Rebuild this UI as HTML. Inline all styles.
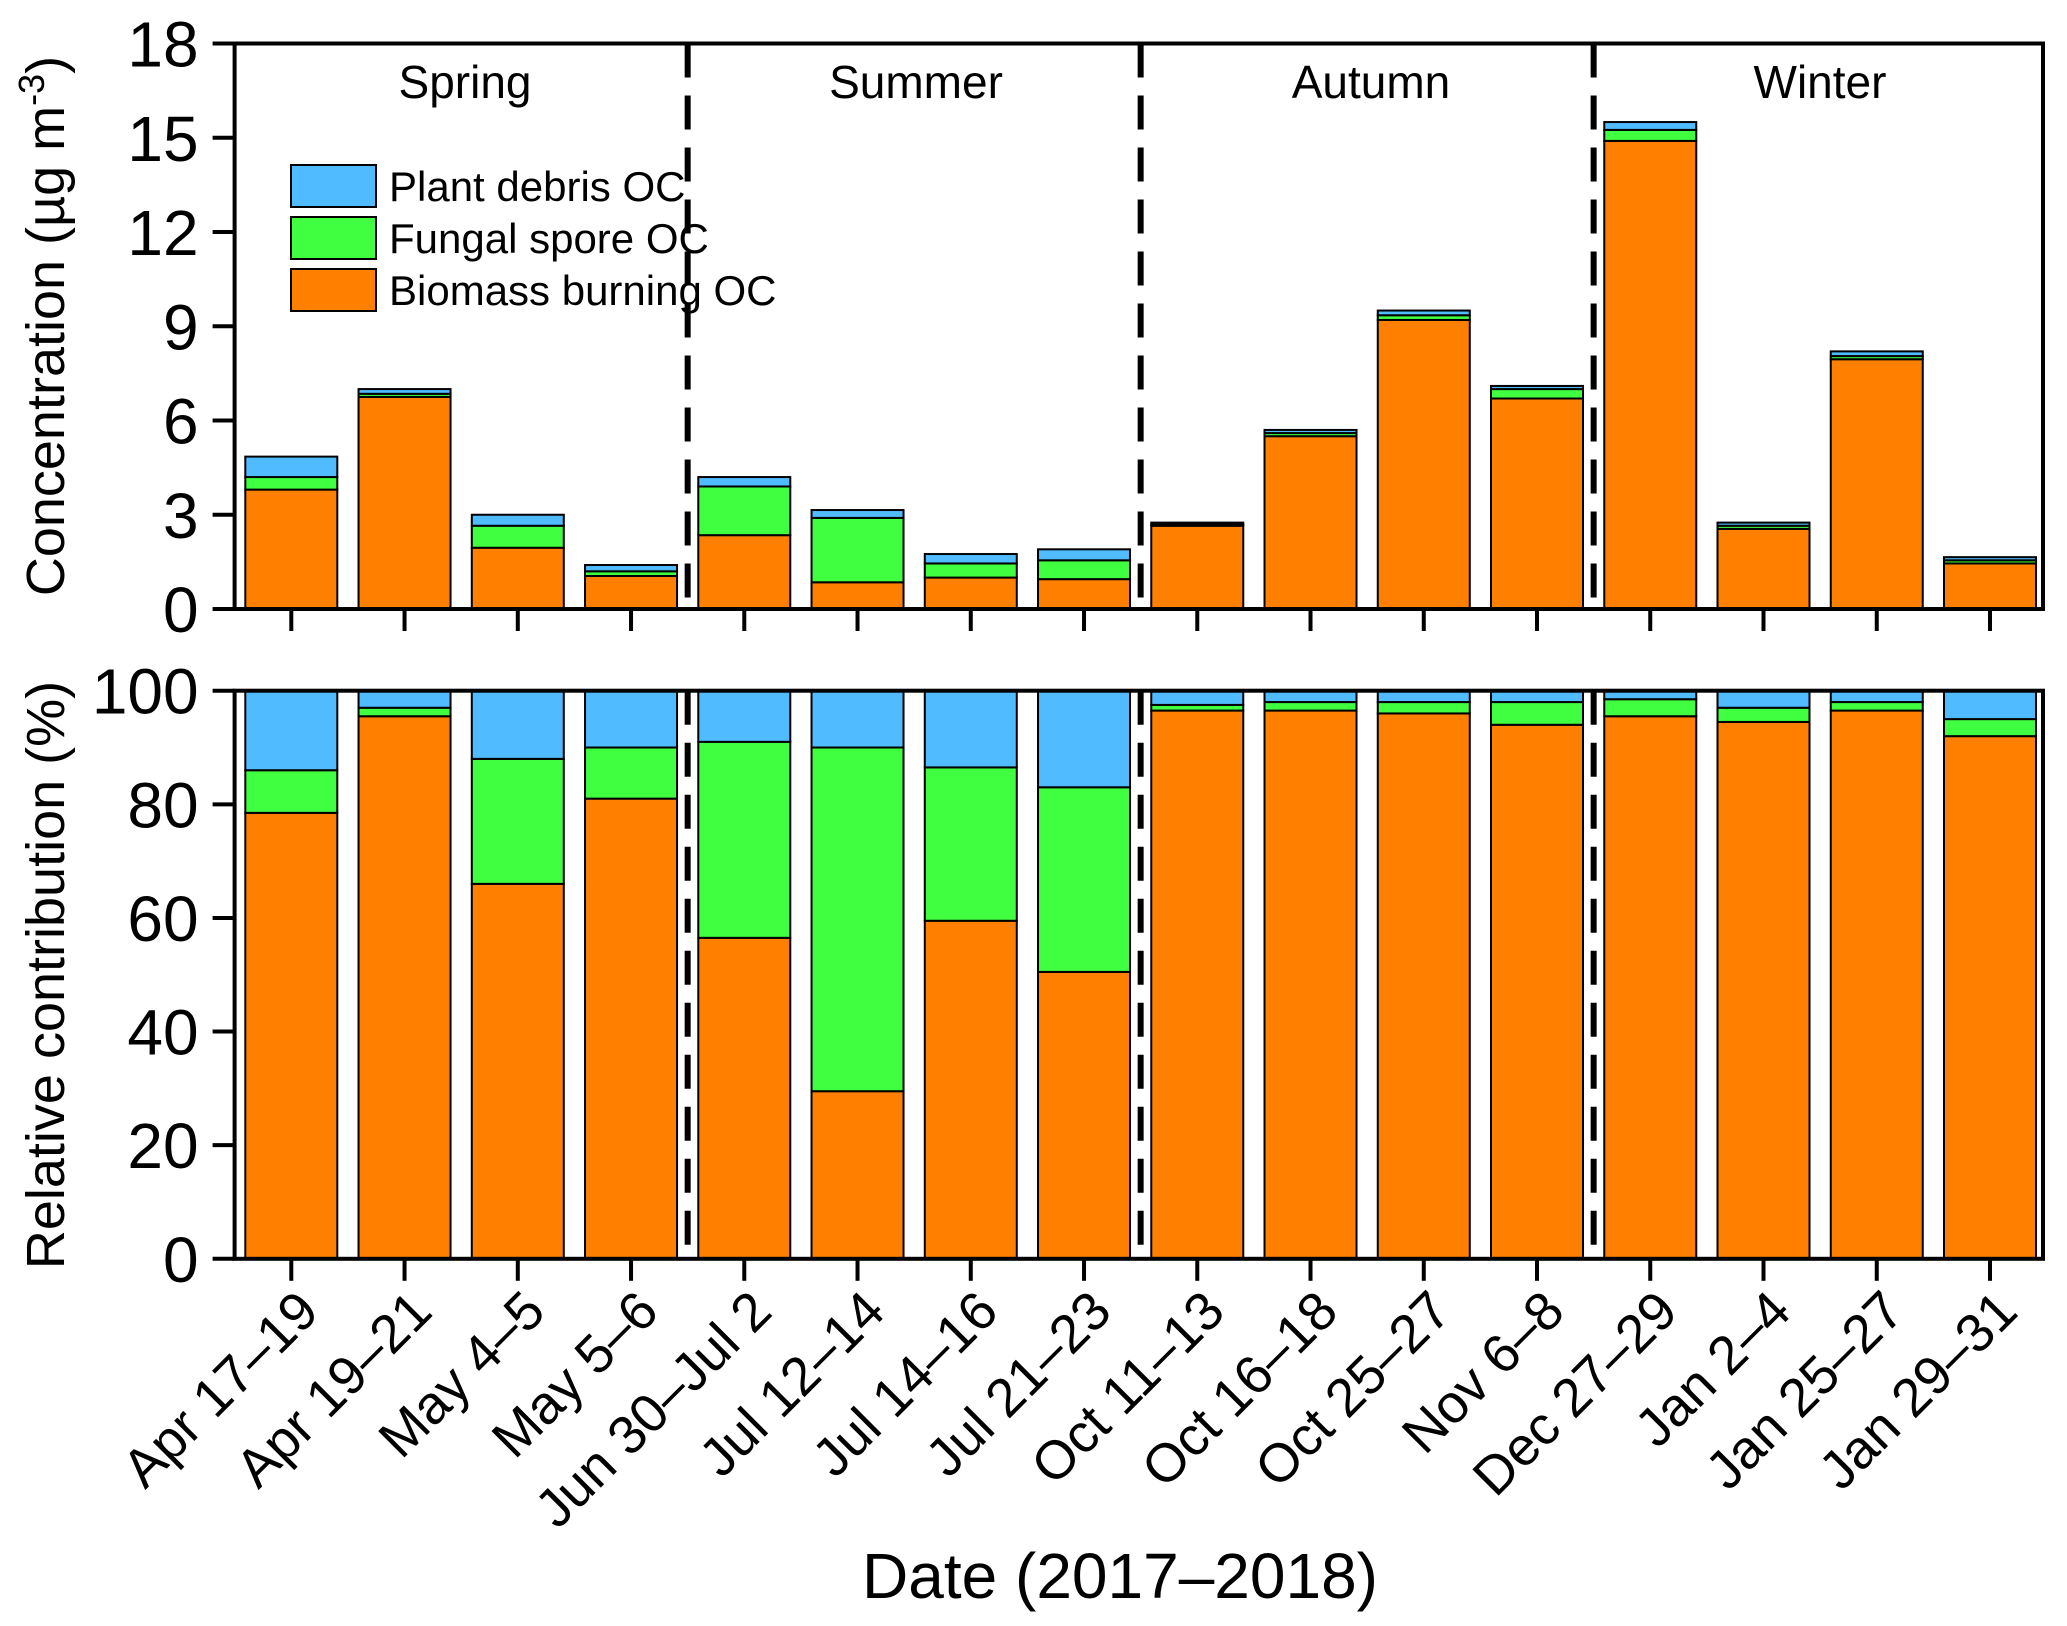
<!DOCTYPE html>
<html><head><meta charset="utf-8"><style>
html,body{margin:0;padding:0;background:#fff}
svg{display:block;font-family:"Liberation Sans",Arial,sans-serif}
</style></head><body>
<svg id="chart" width="2067" height="1626" viewBox="0 0 2067 1626" xmlns="http://www.w3.org/2000/svg"></svg>
<script>
const categories=["Apr 17–19","Apr 19–21","May 4–5","May 5–6","Jun 30–Jul 2","Jul 12–14","Jul 14–16","Jul 21–23","Oct 11–13","Oct 16–18","Oct 25–27","Nov 6–8","Dec 27–29","Jan 2–4","Jan 25–27","Jan 29–31"];
const bioConc=[3.8,6.75,1.95,1.05,2.35,0.85,1.0,0.95,2.65,5.5,9.2,6.7,14.9,2.55,7.95,1.45];
const fungConc=[0.4,0.1,0.7,0.15,1.55,2.05,0.45,0.6,0.05,0.1,0.15,0.3,0.35,0.1,0.1,0.1];
const plantConc=[0.65,0.15,0.35,0.2,0.3,0.25,0.3,0.35,0.05,0.1,0.15,0.1,0.25,0.1,0.15,0.1];
const bioPct=[78.5,95.5,66,81,56.5,29.5,59.5,50.5,96.5,96.5,96,94,95.5,94.5,96.5,92];
const fungPct=[7.5,1.5,22,9,34.5,60.5,27,32.5,1,1.5,2,4,3,2.5,1.5,3];
const plantPct=bioPct.map((b,i)=>100-b-fungPct[i]);
const concTicks=[0,3,6,9,12,15,18];
const pctTicks=[0,20,40,60,80,100];
const seasons=["Spring","Summer","Autumn","Winter"];
const seriesNames=["Plant debris OC","Fungal spore OC","Biomass burning OC"];
const colors={bio:"#FF8000",fung:"#40FF40",plant:"#50BBFF"};

const svg=document.getElementById('chart');
const NS="http://www.w3.org/2000/svg";
function el(t,a,p){const e=document.createElementNS(NS,t);for(const k in a)e.setAttribute(k,a[k]);(p||svg).appendChild(e);return e;}

const L=234.6,R=2043;
const n=categories.length;
const xC=i=>291.3+i*((1990-291.3)/(n-1));
const barW=92;
const yTop=v=>609-(v/18)*(609-43.5);
const yBot=v=>1258.8-(v/100)*(1258.8-690.7);

function panel(ys,ticks,stacks,name,y0,y1){
  const g=el('g',{});
  
  
  for(let i=0;i<n;i++){
    let base=0;
    stacks.forEach(s=>{
      const v=s.vals[i];
      const r=el('rect',{x:xC(i)-barW/2,y:ys(base+v),width:barW,height:Math.max(0,ys(base)-ys(base+v)),fill:s.color,stroke:'#000','stroke-width':2},g);
      
      
      base+=v;
    });
  }
  [3.5,7.5,11.5].forEach(k=>{
    const x=(xC(Math.floor(k))+xC(Math.ceil(k)))/2;
    if(name==='percent-panel') el('rect',{x:x-9,y:y1,width:18,height:y0-y1,fill:'#fff'},g);
    const d=el('line',{x1:x,x2:x,y1:y1,y2:y0,stroke:'#000','stroke-width':6,'stroke-dasharray':'34 18'},g);
    
    
  });
  el('rect',{x:L,y:y1,width:R-L,height:y0-y1,fill:'none',stroke:'#000','stroke-width':4},g);
  ticks.forEach(t=>{
    const y=ys(t);
    el('line',{x1:L-22,x2:L,y1:y,y2:y,stroke:'#000','stroke-width':4},g);
    const tx=el('text',{x:L-36,y:y+23,'text-anchor':'end','font-size':64},g);
    tx.textContent=t;
    
    
  });
  for(let i=0;i<n;i++) el('line',{x1:xC(i),x2:xC(i),y1:y0,y2:y0+22,stroke:'#000','stroke-width':4},g);
}
panel(yTop,concTicks,[{key:'bio',vals:bioConc,color:colors.bio},{key:'fungal',vals:fungConc,color:colors.fung},{key:'plant',vals:plantConc,color:colors.plant}],'concentration-panel',609,43.5);
panel(yBot,pctTicks,[{key:'bio',vals:bioPct,color:colors.bio},{key:'fungal',vals:fungPct,color:colors.fung},{key:'plant',vals:plantPct,color:colors.plant}],'percent-panel',1258.8,690.7);

[465,916,1371,1820].forEach((x,i)=>{
  const t=el('text',{x:x,y:98,'text-anchor':'middle','font-size':46});
  t.textContent=seasons[i];
  
  
});
const lg=el('g',{});


[colors.plant,colors.fung,colors.bio].forEach((c,i)=>{
  const y=165+i*52;
  el('rect',{x:291,y:y,width:85,height:42,fill:c,stroke:'#000','stroke-width':2},lg);
  const t=el('text',{x:389,y:y+36,'font-size':42},lg);
  t.textContent=seriesNames[i];
  
  
});
for(let i=0;i<n;i++){
  const x=xC(i)+30,y=1314;
  const t=el('text',{x:x,y:y,'text-anchor':'end','font-size':54,transform:`rotate(-45 ${x} ${y})`});
  t.textContent=categories[i];
  
  
}
let t=el('text',{x:1120,y:1598,'text-anchor':'middle','font-size':64});
t.textContent="Date (2017–2018)";


t=el('text',{transform:'translate(64 326) rotate(-90)','text-anchor':'middle','font-size':54});
t.innerHTML='Concentration (µg m<tspan dy="-20" font-size="36">-3</tspan><tspan dy="20">)</tspan>';


t=el('text',{transform:'translate(64 975) rotate(-90)','text-anchor':'middle','font-size':54});
t.textContent='Relative contribution (%)';


</script>
</body></html>
